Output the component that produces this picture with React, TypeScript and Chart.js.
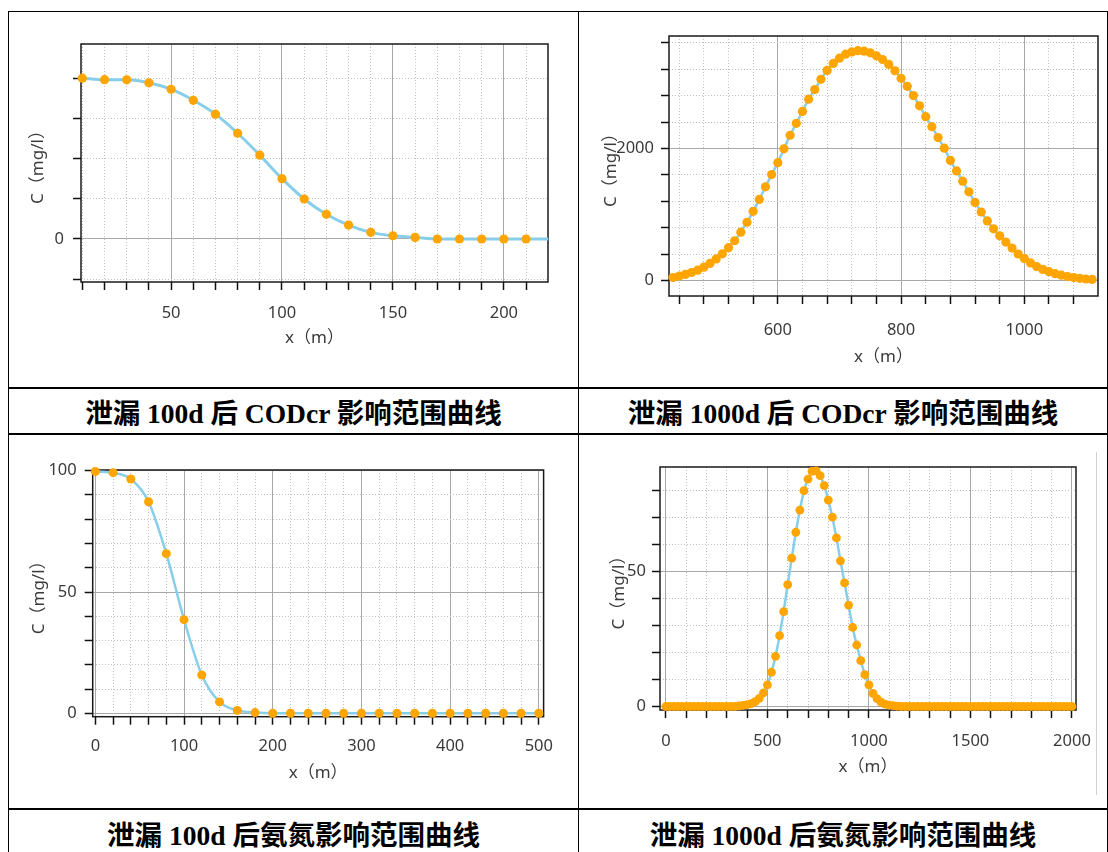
import React, { useEffect, useRef } from 'react';
import { Chart, registerables } from 'chart.js';

Chart.register(...registerables);

// ---------- data ----------
// 泄漏 100d 后 CODcr
const codX100 = [10, 20, 30, 40, 50, 60, 70, 80, 90, 100, 110, 120, 130, 140, 150, 160, 170, 180, 190, 200, 210];
const codC100 = [4000, 3962, 3958, 3885, 3725, 3450, 3105, 2630, 2085, 1500, 995, 615, 345, 165, 80, 40, 0, 0, 0, 0, 0];
const codTailX100 = [220];
const codTailC100 = [0];

// 泄漏 1000d 后 CODcr
const codX1000 = [
  430, 440, 450, 460, 470, 480, 490, 500, 510, 520, 530, 540, 550, 560, 570, 580, 590, 600, 610, 620,
  630, 640, 650, 660, 670, 680, 690, 700, 710, 720, 730, 740, 750, 760, 770, 780, 790, 800, 810, 820,
  830, 840, 850, 860, 870, 880, 890, 900, 910, 920, 930, 940, 950, 960, 970, 980, 990, 1000, 1010, 1020,
  1030, 1040, 1050, 1060, 1070, 1080, 1090, 1100, 1110,
];
const codC1000 = [
  50, 72, 96, 125, 160, 205, 262, 330, 408, 500, 605, 735, 885, 1050, 1230, 1420, 1605, 1785, 1995, 2200,
  2380, 2560, 2745, 2890, 3045, 3180, 3285, 3365, 3425, 3460, 3478, 3470, 3445, 3400, 3345, 3270, 3175, 3060, 2940, 2800,
  2645, 2480, 2330, 2165, 2005, 1820, 1660, 1505, 1345, 1185, 1040, 905, 785, 680, 585, 495, 405, 335, 270, 215,
  172, 138, 108, 85, 63, 48, 37, 27, 20,
];

// 泄漏 100d 后氨氮
const nhX100 = [0, 20, 40, 60, 80, 100, 120, 140, 160, 180, 200, 220, 240, 260, 280, 300, 320, 340, 360, 380, 400, 420, 440, 460, 480, 500];
const nhC100 = [99.7, 99.2, 96.6, 87.2, 65.8, 38.6, 15.8, 4.7, 1.2, 0.3, 0, 0, 0, 0, 0, 0, 0, 0, 0, 0, 0, 0, 0, 0, 0, 0];

// 泄漏 1000d 后氨氮
const nhX1000 = [
  0, 20, 40, 60, 80, 100, 120, 140, 160, 180, 200, 220, 240, 260, 280, 300, 320, 340, 360, 380,
  400, 420, 440, 460, 480, 500, 520, 540, 560, 580, 600, 620, 640, 660, 680, 700, 720, 740, 760, 780,
  800, 820, 840, 860, 880, 900, 920, 940, 960, 980, 1000, 1020, 1040, 1060, 1080, 1100, 1120, 1140, 1160, 1180,
  1200, 1220, 1240, 1260, 1280, 1300, 1320, 1340, 1360, 1380, 1400, 1420, 1440, 1460, 1480, 1500, 1520, 1540, 1560, 1580,
  1600, 1620, 1640, 1660, 1680, 1700, 1720, 1740, 1760, 1780, 1800, 1820, 1840, 1860, 1880, 1900, 1920, 1940, 1960, 1980,
  2000,
];
const nhC1000 = [
  0, 0, 0, 0, 0, 0, 0, 0, 0, 0, 0, 0, 0, 0, 0, 0, 0, 0, 0.2, 0.4,
  0.7, 1.1, 1.8, 3.0, 5.0, 8.0, 12.7, 18.6, 26.3, 35.2, 45.2, 55.0, 64.6, 72.8, 80.0, 84.3, 87.2, 87.4, 85.6, 81.9,
  76.5, 70.2, 62.5, 54.0, 45.8, 37.6, 29.3, 22.8, 17.0, 11.8, 8.0, 4.9, 2.9, 1.6, 0.9, 0.5, 0.3, 0.1, 0, 0,
  0, 0, 0, 0, 0, 0, 0, 0, 0, 0, 0, 0, 0, 0, 0, 0, 0, 0, 0, 0,
  0, 0, 0, 0, 0, 0, 0, 0, 0, 0, 0, 0, 0, 0, 0, 0, 0, 0, 0, 0,
  0,
];

const captions = [
  '泄漏 100d 后 CODcr 影响范围曲线',
  '泄漏 1000d 后 CODcr 影响范围曲线',
  '泄漏 100d 后氨氮影响范围曲线',
  '泄漏 1000d 后氨氮影响范围曲线',
];

const X_TITLE = 'x（m）';
const Y_TITLE = 'C（mg/l）';

// ---------- styles ----------
const FONT = '"Noto Sans", "Noto Sans CJK SC", sans-serif';
const TEXT = '#3a3a3a';
const LINE_COLOR = '#87CEEB';
const POINT_COLOR = '#FFA500';

type Axis = { min: number; max: number; step: number; major: number };
type Cfg = {
  left: number; top: number; w: number; h: number;
  pad: { left: number; top: number; right: number; bottom: number };
  yW: number; xH: number; tickPadX: number; tickPadY: number;
  x: Axis; y: Axis; r: number; lw: number;
  xs: number[]; cs: number[]; tailX?: number[]; tailC?: number[];
};

const isMajor = (v: number, major: number) => Math.abs(v / major - Math.round(v / major)) < 1e-6;

// tick positions: every multiple of the step inside [min, max]
const stepTicks = (ax: Axis) => {
  const out: { value: number }[] = [];
  const first = Math.ceil(ax.min / ax.step - 1e-9);
  const last = Math.floor(ax.max / ax.step + 1e-9);
  for (let k = first; k <= last; k++) out.push({ value: Math.round(k * ax.step * 1e6) / 1e6 });
  return out;
};

const framePlugin = {
  id: 'frame',
  beforeDatasetsDraw(chart: any) {
    const { ctx, chartArea: a } = chart;
    ctx.save();
    ctx.strokeStyle = '#1a1a1a';
    ctx.lineWidth = 1.5;
    ctx.strokeRect(a.left, a.top, a.right - a.left, a.bottom - a.top);
    ctx.restore();
  },
};

function mainAxis(ax: Axis, isX: boolean, cfg: Cfg) {
  return {
    type: 'linear',
    position: isX ? 'bottom' : 'left',
    min: ax.min,
    max: ax.max,
    ticks: {
      autoSkip: false,
      maxRotation: 0,
      minRotation: 0,
      padding: isX ? cfg.tickPadX : cfg.tickPadY,
      color: TEXT,
      font: { family: FONT, size: 16.5, lineHeight: '19.2px' },
      callback: (v: number) => (isMajor(v, ax.major) ? String(v) : ''),
    },
    afterBuildTicks: (s: any) => {
      s.ticks = stepTicks(ax);
    },
    grid: {
      color: (c: any) => (c.tick && isMajor(c.tick.value, ax.major) ? '#a8a8a8' : 'rgba(0,0,0,0)'),
      lineWidth: 1,
      drawTicks: true,
      tickLength: 8,
      tickColor: '#111',
      tickWidth: 1.5,
    },
    border: { display: false },
    title: {
      display: true,
      text: isX ? X_TITLE : Y_TITLE,
      color: TEXT,
      font: { family: FONT, size: 17, lineHeight: '18px' },
      padding: 0,
    },
    afterFit: (s: any) => {
      if (isX) s.height = cfg.xH;
      else s.width = cfg.yW;
    },
  };
}

function minorAxis(ax: Axis, isX: boolean) {
  return {
    type: 'linear',
    position: isX ? 'bottom' : 'left',
    min: ax.min,
    max: ax.max,
    ticks: { display: false, autoSkip: false },
    afterBuildTicks: (s: any) => {
      s.ticks = stepTicks(ax);
    },
    grid: {
      color: (c: any) => (c.tick && isMajor(c.tick.value, ax.major) ? 'rgba(0,0,0,0)' : '#c0c0c0'),
      lineWidth: 1,
      drawTicks: false,
    },
    border: { display: false, dash: [1, 2] },
    afterFit: (s: any) => {
      if (isX) s.height = 0;
      else s.width = 0;
    },
  };
}

function LeakChart({ cfg }: { cfg: Cfg }) {
  const ref = useRef<HTMLCanvasElement>(null);
  useEffect(() => {
    const pts = cfg.xs.map((x, i) => ({ x, y: cfg.cs[i] }));
    const tail = (cfg.tailX || []).map((x, i) => ({ x, y: (cfg.tailC || [])[i] }));
    const chart = new Chart(ref.current as HTMLCanvasElement, {
      type: 'line',
      data: {
        datasets: [
          {
            label: 'points',
            data: pts,
            showLine: false,
            pointRadius: cfg.r,
            pointHoverRadius: cfg.r,
            pointBackgroundColor: POINT_COLOR,
            pointBorderWidth: 0,
            order: 0,
            clip: false,
          } as any,
          {
            label: 'curve',
            data: [...pts, ...tail],
            borderColor: LINE_COLOR,
            borderWidth: cfg.lw,
            pointRadius: 0,
            pointHoverRadius: 0,
            cubicInterpolationMode: 'monotone',
            fill: false,
            order: 1,
            clip: false,
          } as any,
        ],
      },
      options: {
        responsive: false,
        animation: false,
        events: [],
        layout: { padding: cfg.pad },
        plugins: { legend: { display: false }, tooltip: { enabled: false } },
        scales: {
          x: mainAxis(cfg.x, true, cfg),
          y: mainAxis(cfg.y, false, cfg),
          xm: minorAxis(cfg.x, true),
          ym: minorAxis(cfg.y, false),
        } as any,
      },
      plugins: [framePlugin],
    });
    return () => chart.destroy();
  }, [cfg]);
  return (
    <canvas
      ref={ref}
      width={cfg.w}
      height={cfg.h}
      style={{ position: 'absolute', left: cfg.left, top: cfg.top, width: cfg.w, height: cfg.h }}
    />
  );
}

const chart1: Cfg = {
  left: 9, top: 12, w: 568, h: 375,
  pad: { left: 20.5, top: 32, right: 29, bottom: 40 },
  yW: 51.5, xH: 65, tickPadX: 13.4, tickPadY: 9,
  x: { min: 9.4, max: 219.9, step: 10, major: 50 },
  y: { min: -1070, max: 4850, step: 1000, major: 5000 },
  r: 4.6, lw: 3,
  xs: codX100, cs: codC100, tailX: codTailX100, tailC: codTailC100,
};

const chart2: Cfg = {
  left: 580, top: 12, w: 526, h: 375,
  pad: { left: 22, top: 24, right: 8, bottom: 21 },
  yW: 67, xH: 70, tickPadX: 16.4, tickPadY: 7,
  x: { min: 423.5, max: 1119.5, step: 40, major: 200 },
  y: { min: -230, max: 3700, step: 400, major: 2000 },
  r: 4.6, lw: 2.5,
  xs: codX1000, cs: codC1000,
};

const chart3: Cfg = {
  left: 9, top: 435, w: 568, h: 373,
  pad: { left: 21, top: 35, right: 33.4, bottom: 26 },
  yW: 62.7, xH: 65.3, tickPadX: 11.7, tickPadY: 8,
  x: { min: -3, max: 505.4, step: 20, major: 100 },
  y: { min: -1.4, max: 100.3, step: 10, major: 50 },
  r: 4.5, lw: 2.5,
  xs: nhX100, cs: nhC100,
};

const chart4: Cfg = {
  left: 580, top: 435, w: 526, h: 373,
  pad: { left: 30, top: 32, right: 30, bottom: 32 },
  yW: 50, xH: 66, tickPadX: 13.4, tickPadY: 6,
  x: { min: -29, max: 2020, step: 100, major: 500 },
  y: { min: -1.3, max: 88.8, step: 10, major: 50 },
  r: 4.4, lw: 2.5,
  xs: nhX1000, cs: nhC1000,
};

const captionStyle = (left: number, top: number, width: number, height: number): React.CSSProperties => ({
  position: 'absolute',
  left,
  top,
  width,
  height,
  display: 'flex',
  alignItems: 'center',
  justifyContent: 'center',
  fontFamily: '"Liberation Serif", "Times New Roman", "Noto Sans CJK SC", serif',
  fontWeight: 'bold',
  fontSize: 27.5,
  color: '#000',
  whiteSpace: 'nowrap',
});

const line = (left: number, top: number, width: number, height: number, color = '#000'): React.CSSProperties => ({
  position: 'absolute',
  left,
  top,
  width,
  height,
  background: color,
});

export default function App() {
  return (
    <div style={{ position: 'absolute', left: 0, top: 0, width: 1108, height: 852, background: '#fff', overflow: 'hidden' }}>
      {/* table rules */}
      <div style={line(8, 11, 1100, 1)} />
      <div style={line(8, 387, 1100, 2)} />
      <div style={line(8, 433, 1100, 2)} />
      <div style={line(8, 808, 1100, 2)} />
      <div style={line(8, 11, 1, 841)} />
      <div style={line(578, 11, 1, 841)} />
      <div style={line(1107, 11, 1, 841)} />
      <div style={line(1096, 452, 1, 343, '#d0d0d0')} />

      <LeakChart cfg={chart1} />
      <LeakChart cfg={chart2} />
      <LeakChart cfg={chart3} />
      <LeakChart cfg={chart4} />

      <div style={captionStyle(9, 389, 569, 44)}>{captions[0]}</div>
      <div style={captionStyle(579, 389, 528, 44)}>{captions[1]}</div>
      <div style={captionStyle(9, 810, 569, 46)}>{captions[2]}</div>
      <div style={captionStyle(579, 810, 528, 46)}>{captions[3]}</div>
    </div>
  );
}
